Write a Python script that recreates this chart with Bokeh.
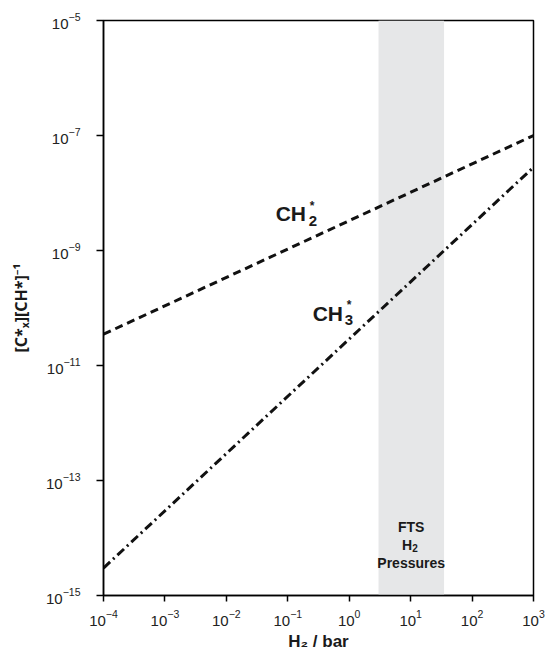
import math
from bokeh.plotting import figure
from bokeh.models import FixedTicker, LogTickFormatter, Label
from bokeh.embed import file_html
from bokeh.resources import INLINE

# ---- data ----
x_ticks = [1e-4, 1e-3, 1e-2, 1e-1, 1e0, 1e1, 1e2, 1e3]
y_ticks = [1e-15, 1e-13, 1e-11, 1e-9, 1e-7, 1e-5]

h2_pressure = [1e-4, 1e3]
ch2_values = [3.5e-11, 1.0e-7]      # CH2*  (slope ~1/2)
ch3_values = [3.0e-15, 2.8e-8]      # CH3*  (slope ~1)

fts_low = [3.0]
fts_high = [35.0]
y_low = [1e-15]
y_high = [1e-5]

X0, X1 = 1e-4, 1e3
Y0, Y1 = 1e-15, 1e-5

FONT = "Liberation Sans"
INK = "#1a1a1a"

p = figure(width=545, height=653,
           x_axis_type="log", y_axis_type="log",
           x_range=(X0, X1), y_range=(Y0, Y1),
           output_backend="svg", toolbar_location=None,
           min_border_left=103, min_border_right=12,
           min_border_top=20, min_border_bottom=57)

p.grid.visible = False
p.outline_line_color = "black"
p.outline_line_width = 1.5
p.background_fill_color = "white"
p.border_fill_color = "white"

# FTS H2 pressure band
p.quad(left=fts_low, right=fts_high, bottom=y_low, top=y_high,
       fill_color="#e6e7e8", line_color=None)

# lines
p.line(h2_pressure, ch2_values, line_color="#111111", line_width=3,
       line_dash="8 5")
p.line(h2_pressure, ch3_values, line_color="#111111", line_width=3,
       line_dash="9 4 2 4")

for ax in (p.xaxis[0], p.yaxis[0]):
    ax.formatter = LogTickFormatter()
    ax.axis_line_color = "black"
    ax.axis_line_width = 1.5
    ax.major_tick_line_color = "black"
    ax.major_tick_line_width = 1.5
    ax.major_tick_in = 0
    ax.minor_tick_line_color = None
    ax.major_label_text_font = FONT
    ax.major_label_text_font_size = "15px"
    ax.major_label_text_color = "#222222"
    ax.axis_label_text_font_style = "bold"
    ax.axis_label_text_color = INK

p.xaxis.ticker = FixedTicker(ticks=x_ticks)
p.yaxis.ticker = FixedTicker(ticks=y_ticks)
p.xaxis.major_tick_out = 6
p.xaxis.major_label_standoff = 8
p.xaxis.axis_label = "H\u2082 / bar"
p.xaxis.axis_label_text_font = FONT
p.xaxis.axis_label_text_font_size = "17px"
p.xaxis.axis_label_standoff = 3

p.yaxis.major_tick_out = 7
p.yaxis.major_label_standoff = 16
p.yaxis.axis_label = "[C*\u2093][CH*]\u207b\u00b9"
p.yaxis.axis_label_text_font = "Noto Sans"
p.yaxis.axis_label_text_font_size = "16px"
p.yaxis.axis_label_standoff = 11


def add(text, x, y, size, align="left", baseline="middle", xo=0, yo=0):
    p.add_layout(Label(x=x, y=y, text=text, text_font=FONT,
                       text_font_style="bold", text_font_size=size,
                       text_color=INK, text_align=align,
                       text_baseline=baseline, x_offset=xo, y_offset=yo))


# species labels
add("CH", 0.0634, 4.37e-9, "21px")
add("2", 0.0634, 4.37e-9, "15px", xo=33, yo=-7)
add("*", 0.0634, 4.37e-9, "12px", xo=34, yo=8)
add("CH", 0.254, 8.18e-11, "21px")
add("3", 0.254, 8.18e-11, "15px", xo=32, yo=-7)
add("*", 0.254, 8.18e-11, "12px", xo=34, yo=8)

# band labels
add("FTS", 10.2, 10**-13.80, "14px", align="center")
add("H", 10.2, 10**-14.13, "14px", align="right", xo=1)
add("2", 10.2, 10**-14.13, "10px", align="left", xo=1, yo=-3)
add("Pressures", 10.2, 10**-14.44, "14px", align="center")

open("out.html", "w").write(file_html(p, INLINE))
